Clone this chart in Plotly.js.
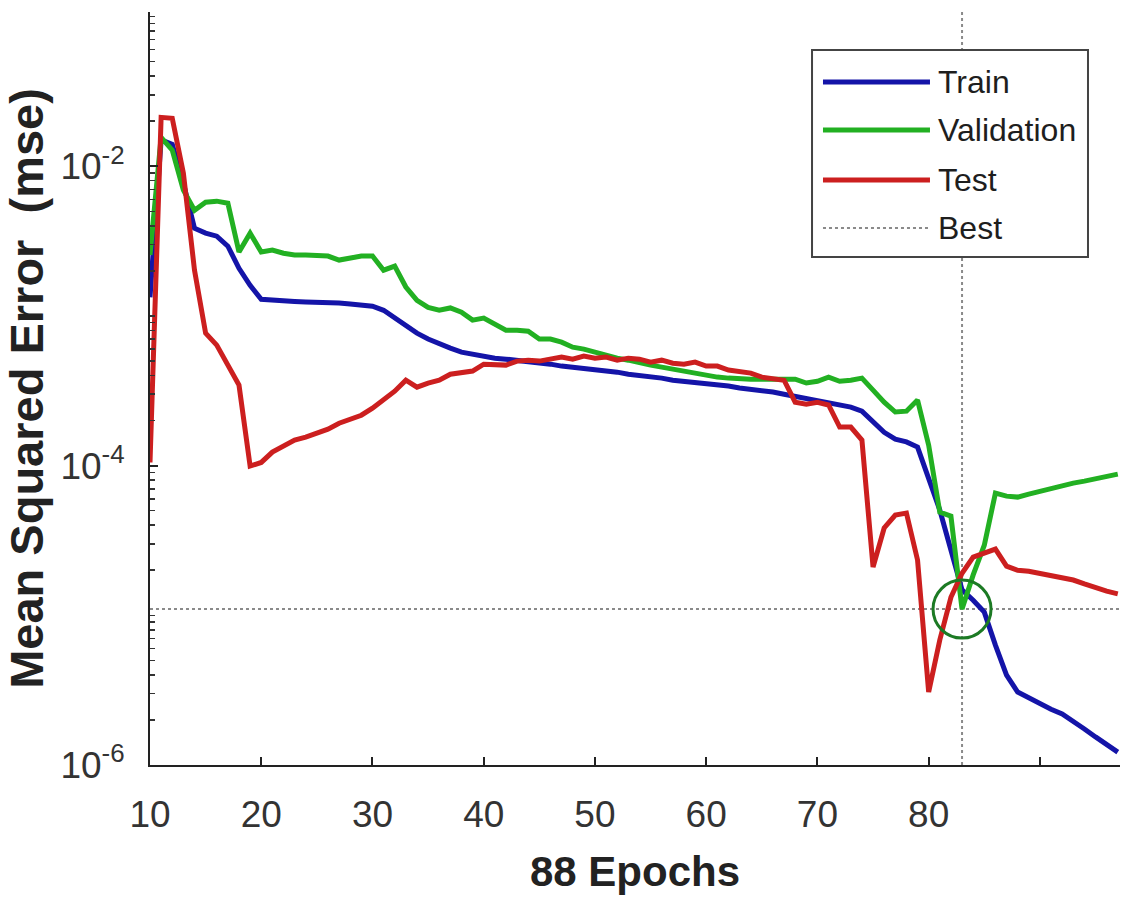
<!DOCTYPE html>
<html>
<head>
<meta charset="utf-8">
<script src="https://cdn.plot.ly/plotly-3.0.1.min.js"></script>
<style>
html,body{margin:0;padding:0;background:#fff;}
#chart{width:1123px;height:900px;}
</style>
</head>
<body>
<div id="chart"></div>
<script>
// Epochs 10..97
const epochs = [10,11,12,13,14,15,16,17,18,19,20,21,22,23,24,25,26,27,28,29,30,31,32,33,34,35,36,37,38,39,40,41,42,43,44,45,46,47,48,49,50,51,52,53,54,55,56,57,58,59,60,61,62,63,64,65,66,67,68,69,70,71,72,73,74,75,76,77,78,79,80,81,82,83,84,85,86,87,88,89,90,91,92,93,94,95,96,97];

const trainMse = [1.33e-3,1.5e-2,1.4e-2,7.7e-3,3.85e-3,3.57e-3,3.41e-3,2.92e-3,2.08e-3,1.60e-3,
1.29e-3,1.27e-3,1.27e-3,1.25e-3,1.24e-3,1.24e-3,1.22e-3,1.22e-3,1.20e-3,1.18e-3,
1.16e-3,1.09e-3,9.66e-4,8.55e-4,7.67e-4,7.00e-4,6.48e-4,6.09e-4,5.73e-4,5.56e-4,
5.31e-4,5.22e-4,5.14e-4,5.06e-4,4.91e-4,4.83e-4,4.76e-4,4.62e-4,4.55e-4,4.48e-4,
4.35e-4,4.28e-4,4.21e-4,4.08e-4,4.02e-4,3.90e-4,3.84e-4,3.72e-4,3.66e-4,3.61e-4,
3.56e-4,3.45e-4,3.40e-4,3.30e-4,3.24e-4,3.14e-4,3.10e-4,3.00e-4,2.91e-4,2.82e-4,
2.74e-4,2.65e-4,2.57e-4,2.46e-4,2.31e-4,1.95e-4,1.67e-4,1.50e-4,1.44e-4,1.33e-4,
8.00e-5,5.05e-5,2.73e-5,1.48e-5,1.26e-5,1.05e-5,6.32e-6,3.99e-6,3.07e-6,2.80e-6,
2.55e-6,2.36e-6,2.19e-6,1.97e-6,1.74e-6,1.54e-6,1.36e-6,1.22e-6];

const validationMse = [2.55e-3,1.56e-2,1.28e-2,6.92e-3,5.08e-3,5.75e-3,5.84e-3,5.66e-3,2.67e-3,3.57e-3,
2.67e-3,2.75e-3,2.62e-3,2.55e-3,2.55e-3,2.51e-3,2.51e-3,2.36e-3,2.43e-3,2.51e-3,
2.51e-3,2.02e-3,2.15e-3,1.56e-3,1.27e-3,1.14e-3,1.09e-3,1.13e-3,1.06e-3,9.37e-4,
9.66e-4,8.81e-4,8.03e-4,8.03e-4,7.91e-4,7.00e-4,7.00e-4,6.68e-4,6.18e-4,6.00e-4,
5.73e-4,5.39e-4,5.22e-4,5.06e-4,4.83e-4,4.69e-4,4.55e-4,4.41e-4,4.21e-4,4.08e-4,
4.02e-4,3.90e-4,3.84e-4,3.78e-4,3.78e-4,3.78e-4,3.78e-4,3.84e-4,3.78e-4,3.56e-4,
3.66e-4,3.90e-4,3.66e-4,3.72e-4,3.84e-4,3.19e-4,2.65e-4,2.28e-4,2.31e-4,2.74e-4,
1.37e-4,4.89e-5,4.60e-5,1.10e-5,1.86e-5,2.94e-5,6.55e-5,6.25e-5,6.16e-5,6.45e-5,
6.76e-5,7.08e-5,7.41e-5,7.64e-5,7.88e-5,8.13e-5,8.38e-5,8.77e-5];

const testMse = [1.05e-4,2.12e-2,2.09e-2,9.0e-3,2.02e-3,7.67e-4,6.38e-4,4.69e-4,3.45e-4,9.93e-5,
1.05e-4,1.23e-4,1.35e-4,1.48e-4,1.55e-4,1.65e-4,1.75e-4,1.92e-4,2.04e-4,2.17e-4,
2.42e-4,2.78e-4,3.14e-4,3.72e-4,3.34e-4,3.56e-4,3.72e-4,4.08e-4,4.21e-4,4.28e-4,
4.76e-4,4.76e-4,4.69e-4,4.99e-4,5.06e-4,4.99e-4,5.14e-4,5.31e-4,5.14e-4,5.39e-4,
5.22e-4,5.31e-4,5.06e-4,5.22e-4,5.14e-4,4.91e-4,5.06e-4,4.83e-4,4.76e-4,4.91e-4,
4.62e-4,4.62e-4,4.35e-4,4.28e-4,4.15e-4,3.90e-4,3.78e-4,3.72e-4,2.65e-4,2.57e-4,
2.65e-4,2.54e-4,1.81e-4,1.81e-4,1.48e-4,2.10e-5,3.83e-5,4.67e-5,4.82e-5,2.34e-5,
3.07e-6,6.84e-6,1.32e-5,1.91e-5,2.45e-5,2.61e-5,2.77e-5,2.13e-5,2.00e-5,1.97e-5,
1.91e-5,1.86e-5,1.80e-5,1.72e-5,1.62e-5,1.52e-5,1.45e-5,1.39e-5];

const bestEpoch = 83;
const bestMse = 1.10e-5;

const xTickVals = [10,20,30,40,50,60,70,80];
const xTickText = ['10','20','30','40','50','60','70','80'];
const xUnlabeledTicks = [90];
const yTickVals = [1e-6,1e-4,1e-2];
const yTickText = ['10<sup>-6</sup>','10<sup>-4</sup>','10<sup>-2</sup>'];

const seriesNames = ['Train','Validation','Test','Best'];
const seriesColors = ['#1414a8','#22b022','#cc1f1f','#8a8a8a'];

const xMin = 10, xMax = 97.2;
const yTop = 0.107, yBottom = 1e-6;

const traces = [
  {x:[xMin,xMax], y:[bestMse,bestMse], mode:'lines', name:'Best', showlegend:false,
   line:{color:seriesColors[3], width:2, dash:'dot'}, hoverinfo:'skip'},
  {x:[bestEpoch,bestEpoch], y:[yBottom,yTop], mode:'lines', name:'Best', showlegend:false,
   line:{color:seriesColors[3], width:2, dash:'dot'}, hoverinfo:'skip'},
  {x:epochs, y:trainMse, mode:'lines', name:'Train', showlegend:false, line:{color:seriesColors[0], width:5}},
  {x:epochs, y:validationMse, mode:'lines', name:'Validation', showlegend:false, line:{color:seriesColors[1], width:5}},
  {x:epochs, y:testMse, mode:'lines', name:'Test', showlegend:false, line:{color:seriesColors[2], width:5}},
  {x:[bestEpoch], y:[bestMse], mode:'markers', name:'Best point', showlegend:false,
   marker:{symbol:'circle-open', size:58, color:'#1c7a24', line:{width:3, color:'#1c7a24'}}}
];

// custom legend (paper coordinates)
const legX0 = 0.6825, legX1 = 0.967, legY0 = 0.6746, legY1 = 0.9495;
const rowY = [0.907, 0.8433, 0.7769, 0.7131];
const sampleX0 = 0.6938, sampleX1 = 0.8041, textX = 0.8103;
const shapes = [{type:'rect', xref:'paper', yref:'paper', x0:legX0, x1:legX1, y0:legY0, y1:legY1,
  line:{color:'#444', width:2}, fillcolor:'#ffffff', layer:'above'}];
const annotations = [];
seriesNames.forEach((n,i)=>{
  shapes.push({type:'line', xref:'paper', yref:'paper', x0:sampleX0, x1:sampleX1, y0:rowY[i], y1:rowY[i],
    line:{color:seriesColors[i], width: i===3 ? 2 : 5, dash: i===3 ? 'dot' : 'solid'}, layer:'above'});
  annotations.push({xref:'paper', yref:'paper', x:textX, y:rowY[i], xanchor:'left', yanchor:'middle',
    text:n, showarrow:false, font:{family:'Liberation Sans, Arial, sans-serif', size:32, color:'#1e1e1e'}});
});

const layout = {
  width:1123, height:900,
  margin:{l:150, r:3, t:12, b:135},
  paper_bgcolor:'#ffffff', plot_bgcolor:'#ffffff',
  showlegend:false,
  font:{family:'Liberation Sans, Arial, sans-serif', color:'#2a2a2a'},
  xaxis:{
    range:[xMin,xMax], tickmode:'array', tickvals:xTickVals, ticktext:xTickText,
    ticks:'inside', ticklen:8, tickwidth:2, tickcolor:'#222',
    minor:{tickmode:'array', tickvals:xUnlabeledTicks, ticks:'inside', ticklen:8, tickwidth:2, tickcolor:'#222', showgrid:false},
    showline:true, linecolor:'#222', linewidth:2, showgrid:false, zeroline:false,
    tickfont:{size:37, color:'#333'}, ticklabelstandoff:16,
    title:{text:'<b>88 Epochs</b>', font:{size:42, color:'#222'}, standoff:22}
  },
  yaxis:{
    type:'log', range:[-6,-0.97], tickmode:'array', tickvals:yTickVals, ticktext:yTickText,
    ticks:'inside', ticklen:8, tickwidth:2, tickcolor:'#222',
    minor:{ticks:'inside', ticklen:5, tickwidth:1.5, tickcolor:'#333', dtick:'D1', showgrid:false},
    showline:true, linecolor:'#222', linewidth:2, showgrid:false, zeroline:false,
    tickfont:{size:37, color:'#333'}, ticklabelstandoff:16,
    title:{text:'<b>Mean Squared Error\u00a0\u00a0(mse)</b>', font:{size:47, color:'#222'}, standoff:12}
  },
  shapes:shapes,
  annotations:annotations
};

Plotly.newPlot('chart', traces, layout, {displayModeBar:false, staticPlot:true});
</script>
</body>
</html>
